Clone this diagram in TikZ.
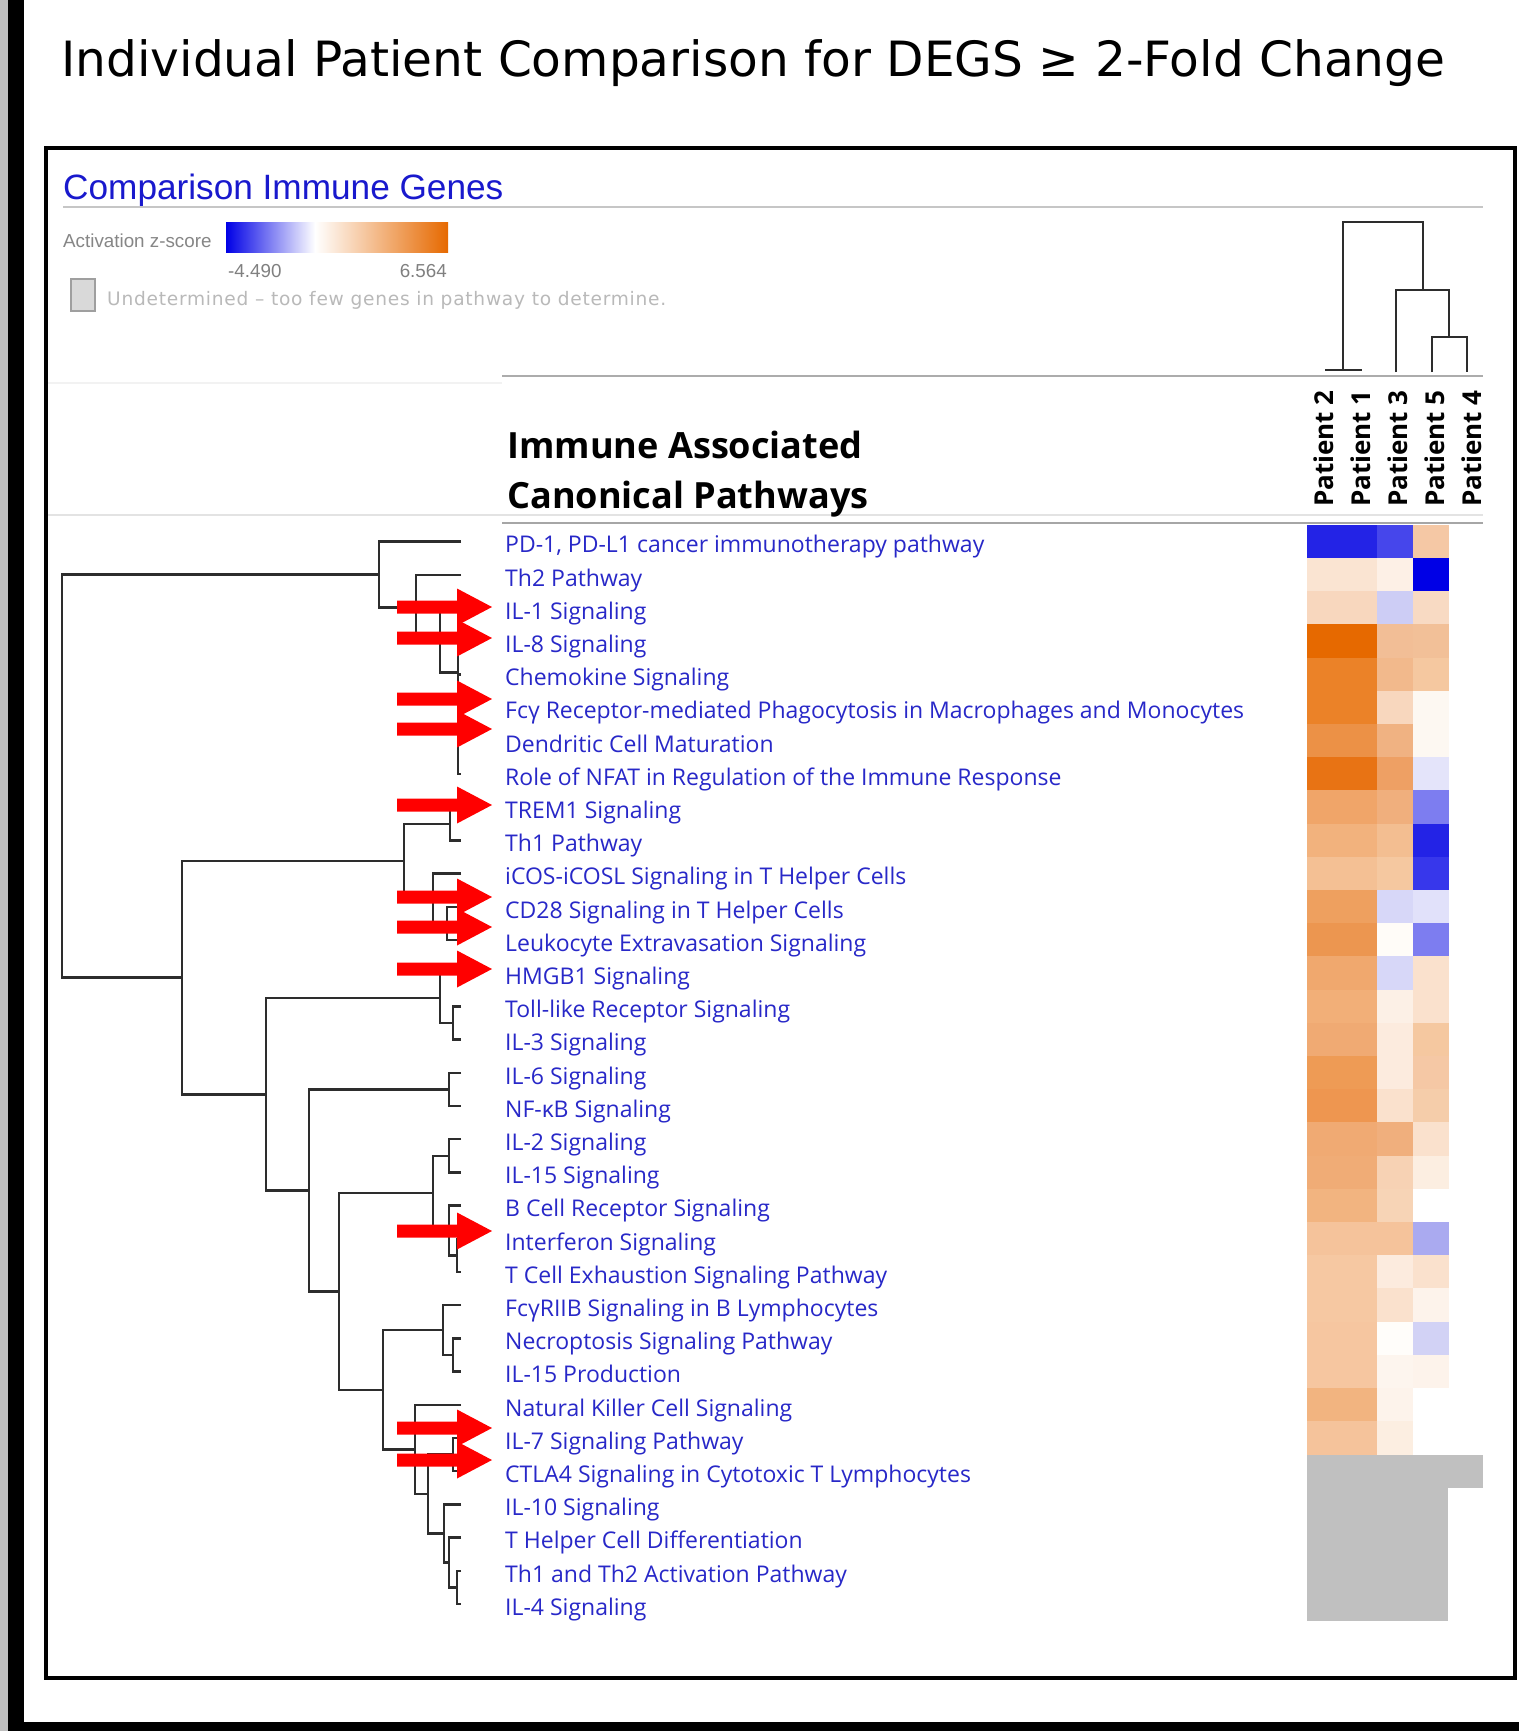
\documentclass[tikz,border=0pt]{standalone}
\usepackage{fontspec}
\setmainfont{Open Sans}
\newfontfamily\titlefont{DejaVu Sans}
\newfontfamily\arialfont{Liberation Sans}
\newfontfamily\undetfont[LetterSpace=4]{DejaVu Sans}
\usepackage{xcolor}
\usepackage{tikz}
\definecolor{pathblue}{RGB}{40,40,200}
\definecolor{ipablue}{RGB}{25,25,205}
\definecolor{arrowred}{RGB}{255,0,0}
\definecolor{dendrogrey}{RGB}{45,45,45}
\definecolor{undetgrey}{RGB}{192,192,192}
\definecolor{edgegrey}{RGB}{190,190,190}
\definecolor{cbblue}{RGB}{0,0,230}
\definecolor{cborange}{RGB}{230,105,0}
\newcommand{\dbranch}[5]{\draw[dendro] (#3,#2) -- (#1,#2) -- (#1,#4) -- (#5,#4);}

\begin{document}
\begin{tikzpicture}[x=1pt, y=-1pt,
  dendro/.style={draw=dendrogrey, line width=2.5},
  pathlabel/.style={text=pathblue, font=\fontsize{23}{27}\selectfont, inner sep=0pt, anchor=base west},
  patlabel/.style={font=\bfseries\fontsize{26}{30}\selectfont, rotate=90, anchor=west, inner sep=0pt},
  hitarrow/.style={fill=arrowred, draw=none}]
  \fill[white] (0,0) rectangle (1519,1731);
  \useasboundingbox (0,0) rectangle (1519,1731);

  % outer edge and frame
  \fill[edgegrey] (0,0) rectangle (8,1731);
  \fill[black] (8,0) rectangle (24,1731);
  \fill[black] (8,1722) rectangle (1519,1731);
  \draw[line width=4] (46,148) rectangle (1515,1678);

  \node[anchor=base west, inner sep=0pt, font=\titlefont\fontsize{48.6}{56}\selectfont] (title) at (61,77)
       {Individual Patient Comparison for DEGS ≥ 2-Fold Change};

  % legend
  \node[anchor=base west, inner sep=0pt, text=ipablue, font=\arialfont\fontsize{35.2}{40}\selectfont] (cmpgenes) at (63,200)
       {Comparison Immune Genes};
  \draw[line width=2, draw=gray!45] (63,207) -- (1483,207);
  \node[anchor=base west, inner sep=0pt, text=gray!95!white, font=\arialfont\fontsize{18.8}{22}\selectfont] (zlab) at (63,247)
       {Activation z-score};
  \shade[left color=cbblue, right color=white] (226,222) rectangle (315,252);
  \shade[left color=white, right color=cborange] (315,222) rectangle (448,252);
  \node[anchor=base west, inner sep=0pt, text=gray, font=\arialfont\fontsize{18.8}{22}\selectfont] (zmin) at (228,277) {-4.490};
  \node[anchor=base east, inner sep=0pt, text=gray, font=\arialfont\fontsize{18.8}{22}\selectfont] (zmax) at (447,277) {6.564};
  \draw[fill=gray!30, draw=gray!75, line width=1.5] (71,279) rectangle (95,311);
  \node[anchor=base west, inner sep=0pt, text=gray!55, font=\undetfont\fontsize{18.6}{21}\selectfont] (undet) at (107,305)
       {Undetermined – too few genes in pathway to determine.};

  % separator rules
  \draw[line width=2.5, draw=gray!65] (502,376) -- (1483,376);
  \draw[line width=1.2, draw=gray!10] (48,383) -- (502,383);
  \draw[line width=1.5, draw=gray!22] (48,515) -- (1483,515);
  \draw[line width=2.5, draw=gray!70] (502,523) -- (1483,523);

  \node[anchor=base west, inner sep=0pt, font=\bfseries\fontsize{36.1}{40}\selectfont] (head1) at (507,458) {Immune Associated};
  \node[anchor=base west, inner sep=0pt, font=\bfseries\fontsize{36.1}{40}\selectfont] (head2) at (507,508) {Canonical Pathways};

  % patient dendrogram
  \draw[dendro] (1325,370) -- (1362,370);
  \draw[dendro] (1343,370) -- (1343,222) -- (1423,222) -- (1423,290);
  \draw[dendro] (1396,372) -- (1396,290) -- (1449,290) -- (1449,337);
  \draw[dendro] (1432,372) -- (1432,337) -- (1467,337) -- (1467,372);
  \foreach \x/\n in {1324/2, 1361/1, 1398/3, 1435/5, 1472/4}
    \node[patlabel] (pat\n) at (\x,507) {Patient \n};

  % pathway labels
  \foreach \t [count=\i] in {{PD-1, PD-L1 cancer immunotherapy pathway}, Th2 Pathway, IL-1 Signaling,
      IL-8 Signaling, Chemokine Signaling, Fcγ Receptor-mediated Phagocytosis in Macrophages and Monocytes,
      Dendritic Cell Maturation, Role of NFAT in Regulation of the Immune Response, TREM1 Signaling,
      Th1 Pathway, iCOS-iCOSL Signaling in T Helper Cells, CD28 Signaling in T Helper Cells,
      Leukocyte Extravasation Signaling, HMGB1 Signaling, Toll-like Receptor Signaling, IL-3 Signaling,
      IL-6 Signaling, NF-κB Signaling, IL-2 Signaling, IL-15 Signaling, B Cell Receptor Signaling,
      Interferon Signaling, T Cell Exhaustion Signaling Pathway, FcγRIIB Signaling in B Lymphocytes,
      Necroptosis Signaling Pathway, IL-15 Production, Natural Killer Cell Signaling, IL-7 Signaling Pathway,
      CTLA4 Signaling in Cytotoxic T Lymphocytes, IL-10 Signaling, T Helper Cell Differentiation,
      Th1 and Th2 Activation Pathway, IL-4 Signaling}
    \node[pathlabel] (p\i) at (505,{519.6+33.2*\i}) {\t};

  % heat map: patients 2+1, patient 3, patient 5
  \foreach \a/\b/\c [count=\i] in {2323E6/4646EB/F5C8A5, FAE4D2/FDF0E6/0000E6, F8D7BE/CDCDF5/F8DAC3,
      E66900/F2BE96/F2C098, EB8228/F2B98C/F5C8A0, EB8228/F8D7BE/FDF8F2, EC9146/F0B282/FDF8F2,
      E87314/EEA064/E4E4FA, F0A569/F0AF7D/7D7DF0, F2B27D/F3BE91/2323E6, F4C094/F5C8A0/3737EB,
      EEA05F/D7D7F8/E1E1FA, EC9650/FFFCF8/7D7DF0, F0A86E/D7D7F8/FAE1CD, F2AF78/FCF0E6/FAE1CD,
      F0AA73/FCEBDE/F5C8A0, EE9B55/FCEBDE/F5C8A5, EE9650/FAE1CD/F5CDAA, F0AA73/F0AF7D/FAE1CD,
      F0AC76/F7D2B4/FCEEE1, F2B480/F7D4B6/FFFFFF, F5C39B/F5C39B/AAAAF0, F6C8A2/FCEBDE/FAE1CD,
      F6C8A2/FAE1CD/FDF3EB, F6C6A0/FFFDFA/D2D2F5, F6C6A0/FDF5EE/FDF3EB, F2B480/FDF3EB/FFFFFF,
      F5C39B/FCEEE1/FFFFFF} {
    \definecolor{hA}{HTML}{\a}\definecolor{hB}{HTML}{\b}\definecolor{hC}{HTML}{\c}
    \filldraw[fill=hA, draw=hA, line width=0.5] (1307,{491.8+33.2*\i}) rectangle (1377,{525+33.2*\i});
    \filldraw[fill=hB, draw=hB, line width=0.5] (1377,{491.8+33.2*\i}) rectangle (1413,{525+33.2*\i});
    \filldraw[fill=hC, draw=hC, line width=0.5] (1413,{491.8+33.2*\i}) rectangle (1448,{525+33.2*\i});
  }
  \fill[undetgrey] (1307,1454.6) rectangle (1483,1487.8);
  \fill[undetgrey] (1307,1487.6) rectangle (1448,1620.6);

  % pathway dendrogram
  \draw[dendro] (461,641.2) -- (458,641.2) -- (458,774.0) -- (461,774.0);
  \foreach \y in {674.4,707.6,740.8} \draw[dendro] (458,\y) -- (461,\y);
  \dbranch{440}{608.0}{461}{672.3}{458}
  \dbranch{416}{574.8}{461}{640.15}{440}
  \dbranch{379}{541.6}{461}{607.5}{416}
  \dbranch{450}{807.2}{461}{840.4}{461}
  \dbranch{447}{906.8}{461}{940.0}{461}
  \dbranch{433}{873.6}{461}{923.4}{447}
  \dbranch{404}{823.8}{450}{898.5}{433}
  \dbranch{453}{1006.4}{461}{1039.6}{461}
  \dbranch{440}{973.2}{461}{1023.0}{453}
  \dbranch{449}{1072.8}{461}{1106.0}{461}
  \dbranch{449}{1139.2}{461}{1172.4}{461}
  \dbranch{457}{1238.8}{461}{1272.0}{461}
  \dbranch{449}{1205.6}{461}{1255.4}{457}
  \dbranch{433}{1155.8}{449}{1230.5}{449}
  \dbranch{453}{1338.4}{461}{1371.6}{461}
  \dbranch{443}{1305.2}{461}{1355.0}{453}
  \dbranch{453}{1438.0}{461}{1471.2}{461}
  \dbranch{457}{1570.8}{461}{1604.0}{461}
  \dbranch{449}{1537.6}{461}{1587.4}{457}
  \dbranch{444}{1504.4}{461}{1562.5}{449}
  \dbranch{428}{1454.6}{453}{1533.45}{444}
  \dbranch{415}{1404.8}{461}{1494.0}{428}
  \dbranch{383}{1330.1}{443}{1449.4}{415}
  \dbranch{339}{1193.15}{433}{1389.75}{383}
  \dbranch{309}{1089.4}{449}{1291.45}{339}
  \dbranch{266}{998.1}{440}{1190.4}{309}
  \dbranch{182}{861.15}{404}{1094.25}{266}
  \dbranch{62}{574.55}{379}{977.7}{182}

  % red markers
  \foreach \y in {607,638,699,729,805,897,927,969,1231,1428,1460}
    \fill[hitarrow] (397,\y-6.5) -- (457,\y-6.5) -- (457,\y-18.5) -- (492,\y)
                    -- (457,\y+18.5) -- (457,\y+6.5) -- (397,\y+6.5) -- cycle;
\end{tikzpicture}
\end{document}
